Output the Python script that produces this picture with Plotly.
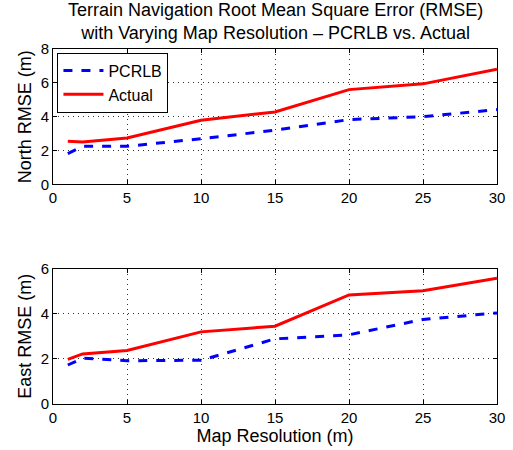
import plotly.graph_objects as go

resolution = [1, 2, 5, 10, 15, 20, 25, 30]
north_pcrlb = [1.82, 2.25, 2.25, 2.7, 3.2, 3.83, 4.0, 4.42]
north_actual = [2.55, 2.5, 2.74, 3.79, 4.28, 5.6, 5.94, 6.8]
east_pcrlb = [1.73, 2.03, 1.92, 1.94, 2.89, 3.07, 3.75, 4.04]
east_actual = [1.98, 2.22, 2.37, 3.2, 3.45, 4.84, 5.02, 5.58]

FONT = "Liberation Sans, Arial, sans-serif"
fig = go.Figure()

fig.add_trace(go.Scatter(x=resolution, y=north_pcrlb, mode="lines", name="PCRLB",
                         line=dict(color="#0000ff", width=3, dash="dash"),
                         xaxis="x", yaxis="y"))
fig.add_trace(go.Scatter(x=resolution, y=north_actual, mode="lines", name="Actual",
                         line=dict(color="#ff0000", width=3),
                         xaxis="x", yaxis="y"))
fig.add_trace(go.Scatter(x=resolution, y=east_pcrlb, mode="lines", showlegend=False,
                         line=dict(color="#0000ff", width=3, dash="dash"),
                         xaxis="x2", yaxis="y2"))
fig.add_trace(go.Scatter(x=resolution, y=east_actual, mode="lines", showlegend=False,
                         line=dict(color="#ff0000", width=3),
                         xaxis="x2", yaxis="y2"))

axis_common = dict(showline=True, linecolor="black", linewidth=1, mirror="ticks",
                   ticks="inside", ticklen=4, tickcolor="black", automargin=False,
                   showgrid=True, gridcolor="#333333", griddash="1px,4px", gridwidth=1,
                   zeroline=False, tickfont=dict(size=15, color="black", family=FONT))

fig.update_layout(
    width=513, height=450,
    margin=dict(l=53, r=16, t=49, b=46),
    paper_bgcolor="white", plot_bgcolor="white",
    font=dict(family=FONT, color="black"),
    xaxis=dict(domain=[0, 1], range=[0, 30], tickvals=[0, 5, 10, 15, 20, 25, 30],
               anchor="y", **axis_common),
    yaxis=dict(domain=[0.6186, 1.0], range=[0, 8], tickvals=[0, 2, 4, 6, 8], anchor="x",
               title=dict(text="North RMSE (m)", font=dict(size=18, family=FONT), standoff=4),
               **axis_common),
    xaxis2=dict(domain=[0, 1], range=[0, 30], tickvals=[0, 5, 10, 15, 20, 25, 30],
                anchor="y2",
                title=dict(text="Map Resolution (m)", font=dict(size=18, family=FONT), standoff=3),
                **axis_common),
    yaxis2=dict(domain=[0, 0.381], range=[0, 6], tickvals=[0, 2, 4, 6], anchor="x2",
                title=dict(text="East RMSE (m)", font=dict(size=18, family=FONT), standoff=4),
                **axis_common),
    legend=dict(x=0.01, y=0.99, xanchor="left", yanchor="top",
                bordercolor="black", borderwidth=1, bgcolor="white",
                font=dict(size=16, family=FONT, color="black"),
                tracegroupgap=0, itemwidth=40),
    showlegend=True,
    annotations=[dict(text="Terrain Navigation Root Mean Square Error (RMSE)<br>with Varying Map Resolution – PCRLB vs. Actual",
                      xref="paper", yref="paper", x=0.5, y=1, yshift=4,
                      xanchor="center", yanchor="bottom", showarrow=False,
                      font=dict(size=18, family=FONT, color="black"))],
)

fig.write_html("out.html")
